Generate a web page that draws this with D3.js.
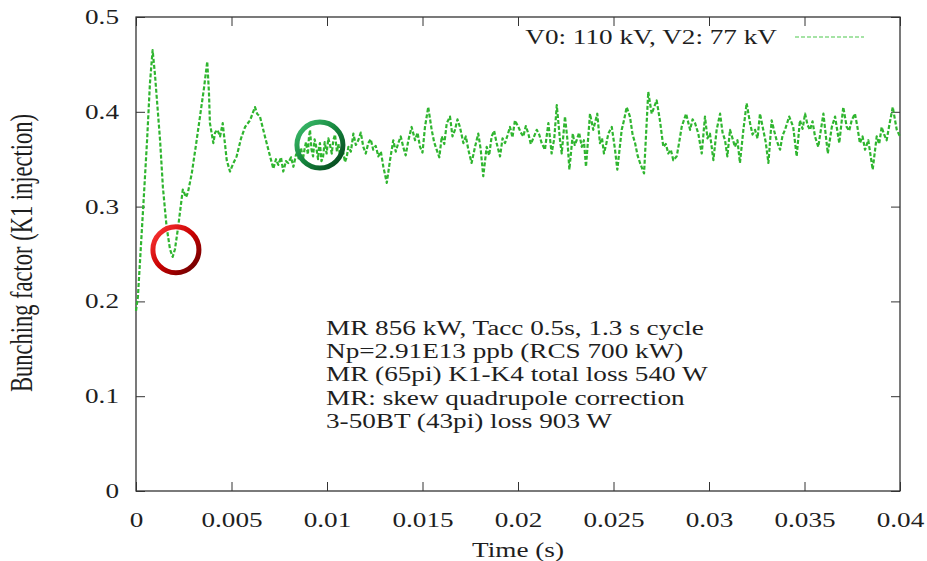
<!DOCTYPE html>
<html><head><meta charset="utf-8">
<script src="https://cdn.jsdelivr.net/npm/d3@7"></script>
<style>
body{margin:0;background:#fff}
text{font-family:"Liberation Serif","Times New Roman",serif;fill:#1e1e1e}
</style>
</head><body><svg id="c" width="927" height="561"></svg>
<script>
const timeS = [
0,0.0001,0.00038,0.00058,0.00073,0.00087,0.00099,0.00126,0.00141,0.0016,
0.00178,0.00192,0.00204,0.00221,0.00245,0.00262,0.00272,0.00292,0.00314,0.00335,
0.00356,0.00373,0.00382,0.00387,0.00405,0.00414,0.00426,0.0044,0.00454,0.00475,
0.00492,0.00508,0.00527,0.0055,0.00571,0.00597,0.00623,0.00634,0.00649,0.00675,
0.00702,0.00719,0.00733,0.00745,0.00759,0.00771,0.00785,0.00797,0.00812,0.00824,
0.00838,0.0085,0.00864,0.00874,0.00882,0.0089,0.009,0.00905,0.00911,0.00919,
0.00927,0.00935,0.00942,0.00953,0.00958,0.00963,0.00971,0.00979,0.00988,0.00998,
0.01007,0.01016,0.01025,0.01033,0.01042,0.01052,0.0106,0.01068,0.01081,0.01094,
0.01103,0.01112,0.01125,0.01138,0.01151,0.01164,0.01177,0.0119,0.01203,0.01216,
0.01229,0.01242,0.01255,0.01269,0.01282,0.01295,0.01313,0.0133,0.01347,0.0136,
0.01373,0.01386,0.01399,0.01412,0.01426,0.01443,0.01461,0.01474,0.01487,0.015,
0.01513,0.0153,0.01548,0.01561,0.01574,0.01588,0.01601,0.01614,0.01627,0.01644,
0.01657,0.0167,0.01683,0.01696,0.01714,0.01727,0.0174,0.01757,0.01775,0.01792,
0.01805,0.01818,0.01836,0.01849,0.01862,0.01875,0.01888,0.01906,0.01919,0.01932,
0.01945,0.01958,0.01971,0.01984,0.02002,0.02015,0.02028,0.02041,0.02054,0.02067,
0.0208,0.02098,0.02111,0.02124,0.02141,0.02159,0.02176,0.0219,0.02203,0.0222,
0.02229,0.02246,0.02258,0.02269,0.02287,0.02297,0.02307,0.0232,0.02334,0.02345,
0.02356,0.02377,0.02394,0.02415,0.02429,0.0244,0.0245,0.02462,0.02473,0.02491,
0.02508,0.0252,0.02543,0.02556,0.02569,0.02586,0.026,0.02613,0.02626,0.02639,
0.0266,0.02682,0.027,0.02713,0.02726,0.02743,0.02761,0.02774,0.02787,0.028,
0.02813,0.02831,0.02844,0.02857,0.0288,0.02901,0.02914,0.02927,0.02944,0.02962,
0.02979,0.02992,0.03005,0.03023,0.0304,0.03058,0.03071,0.03084,0.03096,0.0311,
0.03123,0.03136,0.03149,0.03162,0.0318,0.03197,0.03215,0.03228,0.03241,0.03254,
0.03267,0.03284,0.03297,0.03311,0.03328,0.03341,0.03354,0.03372,0.03385,0.03398,
0.0342,0.03441,0.03459,0.03476,0.0349,0.03503,0.03516,0.03529,0.03542,0.03555,
0.03572,0.03585,0.03599,0.03622,0.03643,0.0366,0.03682,0.03703,0.03721,0.03734,
0.03747,0.03764,0.03777,0.0379,0.03804,0.03817,0.03834,0.03857,0.03878,0.03891,
0.03904,0.03917,0.0393,0.03946,0.03962,0.03983,0.04];
const bunching = [
0.19,0.205,0.30,0.37,0.43,0.465,0.44,0.37,0.32,0.279,
0.255,0.247,0.255,0.279,0.318,0.310,0.315,0.335,0.365,0.395,
0.425,0.453,0.42,0.388,0.367,0.378,0.381,0.374,0.388,0.349,
0.337,0.345,0.353,0.372,0.384,0.391,0.405,0.398,0.395,0.374,
0.353,0.340,0.350,0.344,0.352,0.337,0.348,0.346,0.352,0.342,
0.355,0.351,0.362,0.350,0.360,0.368,0.355,0.372,0.381,0.360,
0.353,0.371,0.365,0.350,0.362,0.367,0.348,0.352,0.368,0.356,
0.372,0.365,0.356,0.370,0.376,0.358,0.366,0.353,0.362,0.347,
0.352,0.363,0.358,0.377,0.365,0.370,0.378,0.363,0.356,0.367,
0.371,0.360,0.364,0.353,0.358,0.342,0.325,0.349,0.370,0.358,
0.367,0.374,0.363,0.354,0.370,0.384,0.370,0.378,0.363,0.357,
0.384,0.405,0.381,0.368,0.360,0.352,0.374,0.366,0.388,0.395,
0.374,0.381,0.392,0.384,0.367,0.374,0.360,0.346,0.363,0.377,
0.360,0.332,0.363,0.354,0.374,0.380,0.367,0.353,0.372,0.367,
0.375,0.384,0.373,0.391,0.384,0.378,0.374,0.385,0.377,0.366,
0.372,0.381,0.376,0.367,0.360,0.388,0.356,0.372,0.407,0.370,
0.356,0.395,0.372,0.339,0.377,0.365,0.370,0.378,0.363,0.370,
0.342,0.398,0.381,0.398,0.367,0.372,0.356,0.366,0.377,0.384,
0.360,0.339,0.381,0.392,0.405,0.395,0.376,0.367,0.354,0.346,
0.335,0.421,0.398,0.405,0.412,0.391,0.363,0.366,0.356,0.360,
0.349,0.353,0.368,0.384,0.398,0.381,0.392,0.388,0.377,0.356,
0.395,0.372,0.377,0.349,0.381,0.398,0.378,0.370,0.353,0.381,
0.372,0.363,0.370,0.346,0.381,0.409,0.388,0.376,0.381,0.372,
0.398,0.381,0.368,0.346,0.391,0.380,0.370,0.360,0.375,0.381,
0.395,0.384,0.353,0.391,0.382,0.398,0.386,0.381,0.390,0.374,
0.363,0.380,0.398,0.356,0.384,0.395,0.367,0.405,0.384,0.380,
0.391,0.398,0.384,0.367,0.374,0.360,0.370,0.339,0.374,0.366,
0.384,0.376,0.370,0.388,0.405,0.381,0.374];
const xTicks = [0,0.005,0.01,0.015,0.02,0.025,0.03,0.035,0.04];
const xTickLabels = ["0","0.005","0.01","0.015","0.02","0.025","0.03","0.035","0.04"];
const yTicks = [0,0.1,0.2,0.3,0.4,0.5];
const yTickLabels = ["0","0.1","0.2","0.3","0.4","0.5"];
const xTitle = "Time (s)";
const yTitle = "Bunching factor (K1 injection)";
const seriesName = "V0: 110 kV, V2: 77 kV";
const noteLines = ["MR 856 kW, Tacc 0.5s, 1.3 s cycle","Np=2.91E13 ppb (RCS 700 kW)","MR (65pi) K1-K4 total loss 540 W","MR: skew quadrupole correction","3-50BT (43pi) loss 903 W"];
const markerT = [0.00209, 0.00963];
const markerV = [0.2545, 0.365];
const markerName = ["red","green"];

const svg = d3.select("#c");
const L = 136, R = 900, T = 17, B = 491;
const SX = 1.36, FS = 20;
const x = d3.scaleLinear().domain([0,0.04]).range([L,R]);
const y = d3.scaleLinear().domain([0,0.5]).range([B,T]);
const green = "#2fb52f";

const defs = svg.append("defs");
const grads = {red:["#ff3a3a","#c80000","#600000"], green:["#3fc070","#14843c","#05401a"]};
Object.entries(grads).forEach(([k,c])=>{
  const g = defs.append("linearGradient").attr("id","g_"+k).attr("x1","0").attr("y1","0").attr("x2","1").attr("y2","1");
  g.append("stop").attr("offset","0").attr("stop-color",c[0]);
  g.append("stop").attr("offset","0.5").attr("stop-color",c[1]);
  g.append("stop").attr("offset","1").attr("stop-color",c[2]);
});

svg.append("rect").attr("x",L).attr("y",T).attr("width",R-L).attr("height",B-T)
  .attr("fill","none").attr("stroke","#222").attr("stroke-width",1.2);

const gx = svg.append("g").attr("transform",`translate(0,${B})`)
  .call(d3.axisBottom(x).tickValues(xTicks).tickFormat((d,i)=>xTickLabels[i]).tickSizeInner(-9).tickSizeOuter(0).tickPadding(22));
const gxt = svg.append("g").attr("transform",`translate(0,${T})`)
  .call(d3.axisTop(x).tickValues(xTicks).tickFormat("").tickSizeInner(-9).tickSizeOuter(0));
const gy = svg.append("g").attr("transform",`translate(${L},0)`)
  .call(d3.axisLeft(y).tickValues(yTicks).tickFormat((d,i)=>yTickLabels[i]).tickSizeInner(-9).tickSizeOuter(0).tickPadding(14));
const gyr = svg.append("g").attr("transform",`translate(${R},0)`)
  .call(d3.axisRight(y).tickValues(yTicks).tickFormat("").tickSizeInner(-9).tickSizeOuter(0));
[gx,gxt,gy,gyr].forEach(g=>{
  g.select(".domain").remove();
  g.selectAll(".tick line").attr("stroke","#333").attr("stroke-width",1);
  g.selectAll("text").attr("font-family","Liberation Serif").attr("font-size",FS).attr("fill","#1e1e1e");
});
gx.selectAll(".tick text").attr("transform",`scale(${SX},1)`);
gy.selectAll(".tick text").attr("transform",`scale(${SX},1)`).attr("x",-17/SX);

function stxt(px,py,s,anchor){
  return svg.append("text").attr("transform",`translate(${px},${py}) scale(${SX},1)`)
    .attr("text-anchor",anchor||"start").attr("font-size",FS).text(s);
}
stxt((L+R)/2, 557, xTitle, "middle");
svg.append("text").attr("transform",`translate(32,253) rotate(-90) scale(1,${SX})`)
  .attr("text-anchor","middle").attr("font-size",22.5).text(yTitle);

const line = d3.line().x((d,i)=>x(timeS[i])).y(d=>y(d));
svg.append("path").datum(bunching).attr("d",line).attr("fill","none")
  .attr("stroke",green).attr("stroke-width",2.2).attr("stroke-dasharray","4,2").attr("stroke-linejoin","round");

stxt(777, 44, seriesName, "end");
svg.append("line").attr("x1",795).attr("x2",864).attr("y1",37).attr("y2",37)
  .attr("stroke","#4cc84c").attr("stroke-width",1.2).attr("stroke-dasharray","4,2");

noteLines.forEach((s,i)=>stxt(326, 335 + i*23.2, s, "start"));

markerT.forEach((t,i)=>{
  svg.append("circle").attr("cx",x(t)).attr("cy",y(markerV[i])).attr("r",23)
    .attr("fill","none").attr("stroke",`url(#g_${markerName[i]})`).attr("stroke-width",5);
});
</script>
</body></html>
